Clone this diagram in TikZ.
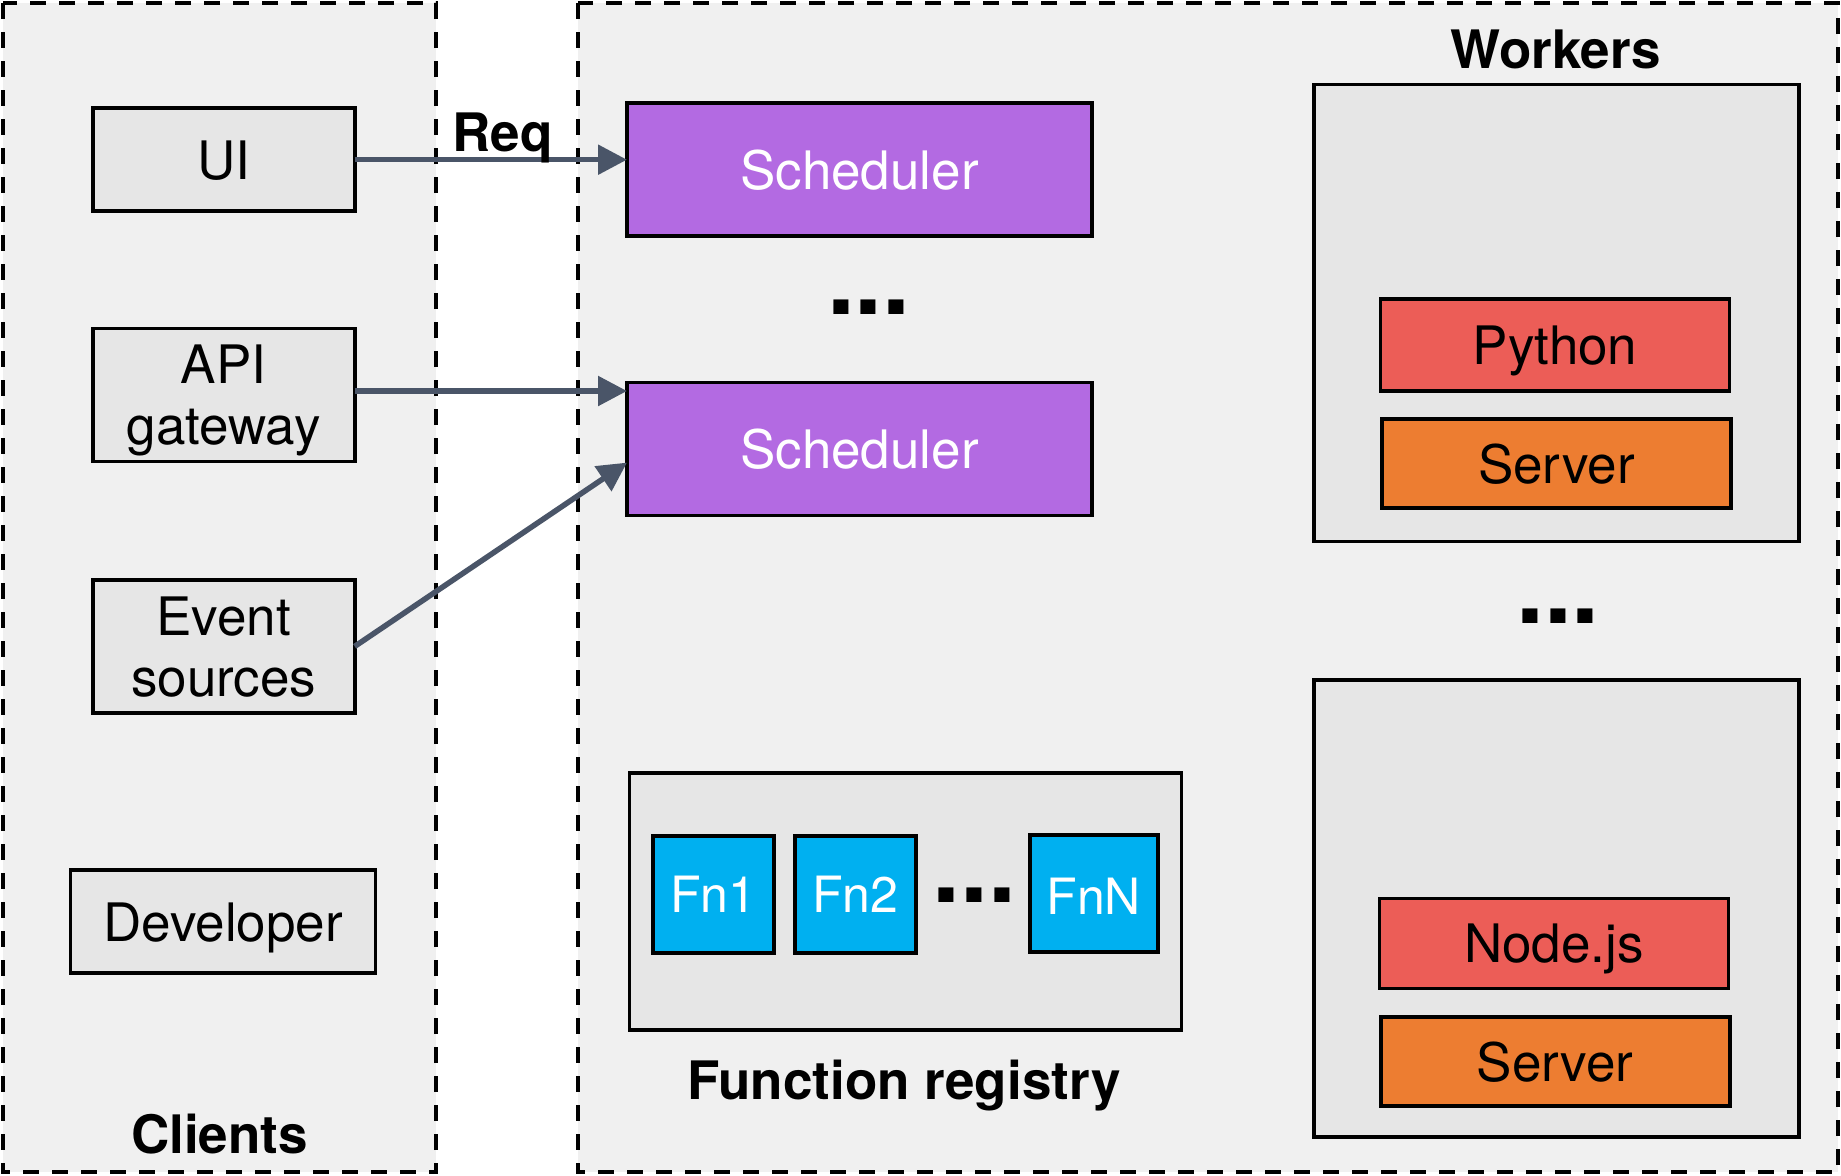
\documentclass[tikz,border=0pt]{standalone}
\usepackage{fontspec}
\setmainfont{TeX Gyre Heros}
\usetikzlibrary{arrows.meta,calc}
\definecolor{grpfill}{HTML}{F0F0F0}
\definecolor{boxfill}{HTML}{E6E6E6}
\definecolor{schedfill}{HTML}{B36AE2}
\definecolor{langfill}{HTML}{EC5D57}
\definecolor{srvfill}{HTML}{ED7D31}
\definecolor{fnfill}{HTML}{00B0F0}
\definecolor{arrowcol}{HTML}{4A5568}
\begin{document}
\begin{tikzpicture}[x=1pt,y=-1pt,
  every node/.style={inner sep=0pt, outer sep=0pt},
  grp/.style={draw=black, fill=grpfill, line width=3.3pt, dash pattern=on 16pt off 13pt},
  box/.style={draw=black, line width=3.6pt, fill=boxfill, align=center, text depth=0pt,
              font=\fontsize{53}{61}\selectfont},
  sched/.style={box, fill=schedfill, text=white},
  lang/.style={box, fill=langfill},
  srv/.style={box, fill=srvfill},
  fn/.style={box, fill=fnfill, text=white, font=\fontsize{50}{58}\selectfont},
  title/.style={anchor=base, font=\fontsize{53}{61}\selectfont\bfseries},
  dots/.style={font=\fontsize{100}{100}\selectfont\bfseries},
  conn/.style={draw=arrowcol, line width=5.5pt, -{Triangle[length=29pt,width=29pt]}}
]
\useasboundingbox (0,0) rectangle (1841,1175);
\fill[white] (0,0) rectangle (1841,1175);

% group areas
\draw[grp] (3,3) rectangle (436,1172);
\draw[grp] (578,3) rectangle (1838,1172);

% clients
\node[box, minimum width=262, minimum height=103] (ui) at (223.7,159.7) {UI};
\node[box, minimum width=262, minimum height=133] (api) at (223.7,395) {API\\gateway};
\node[box, minimum width=262, minimum height=133] (es) at (223.7,646.4) {Event\\sources};
\node[box, minimum width=305, minimum height=103] (dev) at (223,921.7) {Developer};
\node[title] (clients) at (219.6,1153) {Clients};

% schedulers
\node[sched, minimum width=465, minimum height=133] (s1) at (859.5,169.7) {Scheduler};
\node[dots] (d1) at (868.8,307.6) {...};
\node[sched, minimum width=465, minimum height=133] (s2) at (859.5,449.1) {Scheduler};

% function registry
\node[box, minimum width=552, minimum height=257] (fr) at (905.3,901.2) {};
\node[fn, minimum width=121, minimum height=117] (fn1) at (713.3,894.7) {Fn1};
\node[fn, minimum width=121, minimum height=117] (fn2) at (855.4,894.7) {Fn2};
\node[dots] (d3) at (974.5,894.7) {...};
\node[fn, minimum width=128, minimum height=117] (fnn) at (1093.7,893.5) {\raisebox{-5pt}{FnN}};
\node[title] (frl) at (904,1099) {Function registry};

% workers
\node[title] (workers) at (1555.7,68) {Workers};
\node[box, minimum width=485, minimum height=457] (w1) at (1556.3,312.9) {};
\node[lang, minimum width=349, minimum height=92] (py) at (1555,345.2) {Python};
\node[srv, minimum width=349, minimum height=89] (sv1) at (1556.3,463.7) {Server};
\node[dots] (d2) at (1558,616.4) {...};
\node[box, minimum width=485, minimum height=457] (w2) at (1556.3,908.2) {};
\node[lang, minimum width=349, minimum height=90] (nd) at (1554,943.4) {Node.js};
\node[srv, minimum width=349, minimum height=89] (sv2) at (1555.2,1061.4) {Server};

% connectors
\draw[conn] (ui.east) -- (ui.east -| s1.west);
\node[title] (req) at (502.5,151.5) {Req};
\draw[conn] ($(api.east)+(0,-4)$) -- ($(api.east -| s2.west)+(0,-4)$);
\draw[conn] (es.east) -- ($(s2.west)+(0,13.5)$);
\end{tikzpicture}
\end{document}
